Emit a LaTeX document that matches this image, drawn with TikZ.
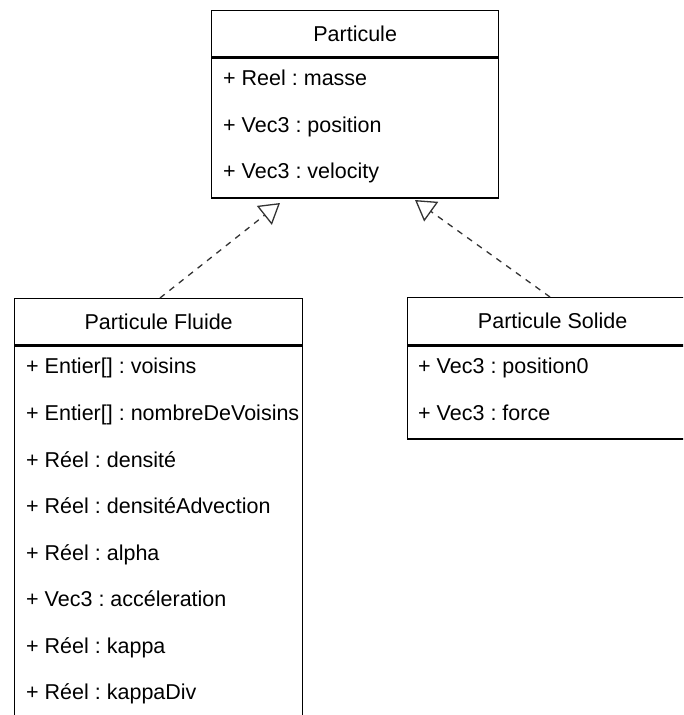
\documentclass[tikz,border=0pt]{standalone}
\usepackage{fontspec}
\setmainfont{Liberation Sans}
\usetikzlibrary{arrows.meta,positioning}
\tikzset{
  classhead/.style={draw,line width=1.3pt,inner sep=0pt,anchor=north west,minimum height=46pt,font=\fontsize{21.5}{25}\selectfont},
  classbody/.style={draw,line width=1.3pt,inner sep=0pt,anchor=north west},
  attr/.style={anchor=west,inner sep=0pt,text height=15pt,text depth=4pt,font=\fontsize{21.5}{25}\selectfont},
  realize/.style={line width=1.3pt,black!80,dash pattern=on 6pt off 6pt,-{Triangle[open,length=20pt,width=24pt,line width=1.3pt]}}
}
\frenchspacing

\begin{document}
\begin{tikzpicture}[x=1pt,y=-1pt]
\clip (0,0) rectangle (683,715);
% base class
\node[classhead,minimum width=287pt] (phead) at (211,10) {Particule};
\node[classbody,minimum width=287pt,minimum height=140pt] (pbody) at (phead.south west) {};
\node[attr] (pmasse) at (223,80) {+ Reel : masse};
\node[attr] (ppos) at (223,127) {+ Vec3 : position};
\node[attr] (pvel) at (223,173) {+ Vec3 : velocity};
% fluid particle
\node[classhead,minimum width=288pt] (fhead) at (14,298) {Particule Fluide};
\node[classbody,minimum width=288pt,minimum height=420pt] (fbody) at (fhead.south west) {};
\begin{scope}
\clip (fbody.north west) rectangle ([xshift=-3pt]fbody.south east);
\node[attr] (fvoisins) at (26,368) {+ Entier[] : voisins};
\node[attr] (fnombre) at (26,415) {+ Entier[] : nombreDeVoisins};
\node[attr] (fdens) at (26,462) {+ Réel : densité};
\node[attr] (fadv) at (26,508) {+ Réel : densitéAdvection};
\node[attr] (falpha) at (26,555) {+ Réel : alpha};
\node[attr] (facc) at (26,601) {+ Vec3 : accéleration};
\node[attr] (fkappa) at (26,648) {+ Réel : kappa};
\node[attr] (fkdiv) at (26,694) {+ Réel : kappaDiv};
\end{scope}
% solid particle
\node[classhead,minimum width=300pt,minimum height=47pt] (shead) at (407,297) {\hspace*{-10pt}Particule Solide};
\node[classbody,minimum width=300pt,minimum height=93pt] (sbody) at (shead.south west) {};
\node[attr] (spos) at (418,368) {+ Vec3 : position0};
\node[attr] (sforce) at (418,415) {+ Vec3 : force};
% realisations
\coordinate (fstart) at (160,298);
\coordinate (ftip) at (280,203);
\coordinate (sstart) at (550,297);
\coordinate (stip) at (415,200);
\draw[realize] (fstart) -- (ftip);
\draw[realize] (sstart) -- (stip);
\end{tikzpicture}
\end{document}
